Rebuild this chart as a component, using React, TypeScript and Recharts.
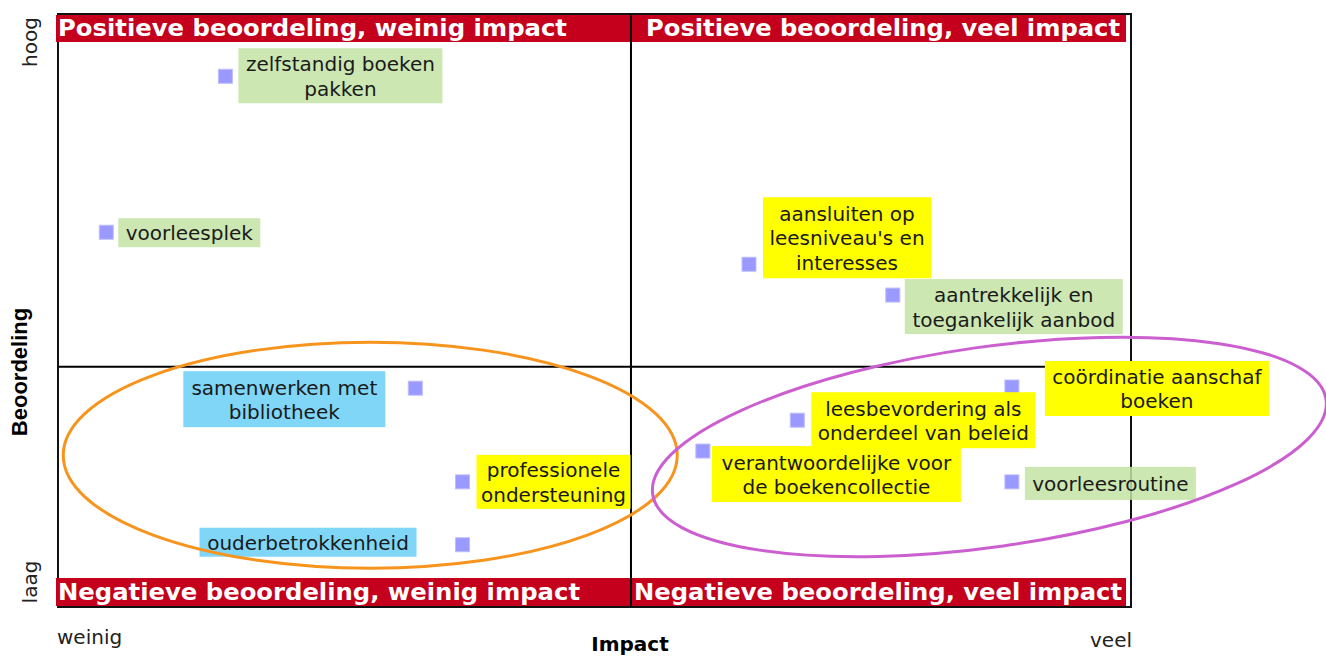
import { ScatterChart, Scatter, XAxis, YAxis, ReferenceLine, Customized } from "recharts";

// onderwerpen uit de leesmonitor, met impact (x) en beoordeling (y) op schaal 0-10
const items = [
  "zelfstandig boeken\npakken",
  "voorleesplek",
  "aansluiten op\nleesniveau's en\ninteresses",
  "aantrekkelijk en\ntoegankelijk aanbod",
  "samenwerken met\nbibliotheek",
  "professionele\nondersteuning",
  "ouderbetrokkenheid",
  "coördinatie aanschaf\nboeken",
  "leesbevordering als\nonderdeel van beleid",
  "verantwoordelijke voor\nde boekencollectie",
  "voorleesroutine",
];
const impact = [1.56, 0.45, 6.44, 7.78, 3.33, 3.77, 3.77, 8.89, 6.89, 6.01, 8.89];
const beoordeling = [8.95, 6.32, 5.78, 5.26, 3.69, 2.11, 1.05, 3.71, 3.15, 2.63, 2.11];
const groep = ["a", "a", "b", "a", "c", "b", "c", "b", "b", "b", "a"];

const quadrantTitles = [
  "Positieve beoordeling, weinig impact",
  "Positieve beoordeling, veel impact",
  "Negatieve beoordeling, weinig impact",
  "Negatieve beoordeling, veel impact",
];
const yTickLabels = ["hoog", "laag"];
const xTickLabels = ["weinig", "veel"];
const xTitle = "Impact";
const yTitle = "Beoordeling";

// grens tussen de kwadranten
const impactMid = 5.34;
const beoordelingMid = 4.05;

// middelpunten van de omcirkelde groepen
const clusterImpact = [2.91, 8.68];
const clusterBeoordeling = [2.56, 2.7];

const data = items.map((name, i) => ({
  name,
  impact: impact[i],
  beoordeling: beoordeling[i],
  groep: groep[i],
  idx: i,
}));
const clusters = clusterImpact.map((x, i) => ({ impact: x, beoordeling: clusterBeoordeling[i], idx: i }));

// label placement relative to the marker (px)
const labelLayout = [
  { dx: 13, dy: -28, w: 204, h: 55 },
  { dx: 12, dy: -14, w: 142, h: 29 },
  { dx: 14, dy: -67, w: 168, h: 81 },
  { dx: 12, dy: -16, w: 218, h: 55 },
  { dx: -232, dy: -17, w: 202, h: 56 },
  { dx: 14, dy: -27, w: 154, h: 54 },
  { dx: -263, dy: -17, w: 217, h: 29 },
  { dx: 33, dy: -26, w: 224, h: 55 },
  { dx: 14, dy: -28, w: 224, h: 56 },
  { dx: 9, dy: -5, w: 249, h: 56 },
  { dx: 13, dy: -15, w: 171, h: 33 },
];
const groupFill: Record<string, { fill: string; opacity: number }> = {
  a: { fill: "#c3e3a4", opacity: 0.85 },
  b: { fill: "#ffff00", opacity: 1 },
  c: { fill: "#7fd6f6", opacity: 1 },
};
const clusterStyle = [
  { rx: 307, ry: 113, angle: 0, color: "#f7941d" },
  { rx: 340, ry: 100, angle: -8, color: "#cc5fd0" },
];

const W = 1326;
const H = 657;
const M = { top: 14, right: 195, bottom: 50, left: 58 };
const PL = M.left;
const PR = W - M.right;
const PT = M.top;
const PB = H - M.bottom;
const MIDX = 631;
const RED = "#c4001c";
const FONT = "'DejaVu Sans', Verdana, sans-serif";
const LINE_H = 24.5;

const PointShape = (props: any) => {
  const { cx, cy, payload } = props;
  const box = labelLayout[payload.idx];
  const lines = String(payload.name).split("\n");
  const left = cx + box.dx;
  const top = cy + box.dy;
  const offset = (box.h - lines.length * LINE_H) / 2;
  const g = groupFill[payload.groep];
  return (
    <g>
      <rect x={cx - 7} y={cy - 7} width={14} height={14} fill="#9999ff" stroke="#bdbdff" strokeWidth={1} />
      <rect x={left} y={top} width={box.w} height={box.h} fill={g.fill} fillOpacity={g.opacity} />
      {lines.map((l, i) => (
        <text
          key={i}
          x={left + box.w / 2}
          y={top + offset + 20 + i * LINE_H}
          textAnchor="middle"
          fontFamily={FONT}
          fontSize={20}
          fill="#1a1a1a"
        >
          {l}
        </text>
      ))}
    </g>
  );
};

const ClusterShape = (props: any) => {
  const { cx, cy, payload } = props;
  const s = clusterStyle[payload.idx];
  return (
    <ellipse
      cx={cx}
      cy={cy}
      rx={s.rx}
      ry={s.ry}
      transform={`rotate(${s.angle} ${cx} ${cy})`}
      fill="none"
      stroke={s.color}
      strokeWidth={3}
    />
  );
};

const bannerText = (text: string, x: number, y: number, len: number) => (
  <text
    x={x}
    y={y}
    textLength={len}
    lengthAdjust="spacingAndGlyphs"
    fontFamily="'DejaVu Sans Condensed', 'DejaVu Sans', sans-serif"
    fontWeight="bold"
    fontSize={23}
    fill="#fff"
  >
    {text}
  </text>
);

const BackLayer = () => (
  <g>
    <rect x={PL} y={PT} width={PR - PL} height={PB - PT} fill="none" stroke="#111" strokeWidth={2} />
    <rect x={56} y={578} width={MIDX - 56} height={28} fill={RED} />
    <rect x={MIDX} y={578} width={1126 - MIDX} height={28} fill={RED} />
    {bannerText(quadrantTitles[2], 58, 600, 522)}
    {bannerText(quadrantTitles[3], 634, 600, 488)}
  </g>
);

const FrontLayer = () => (
  <g>
    <rect x={56} y={15} width={1126 - 56} height={27} fill={RED} />
    {bannerText(quadrantTitles[0], 58, 36, 509)}
    {bannerText(quadrantTitles[1], 646, 36, 474)}
    <text x={37} y={42} transform="rotate(-90 37 42)" textAnchor="middle" fontFamily={FONT} fontSize={20} fill="#222">
      {yTickLabels[0]}
    </text>
    <text x={37} y={582} transform="rotate(-90 37 582)" textAnchor="middle" fontFamily={FONT} fontSize={20} fill="#222">
      {yTickLabels[1]}
    </text>
    <text
      x={27}
      y={372}
      transform="rotate(-90 27 372)"
      textAnchor="middle"
      fontFamily="'Liberation Sans', Arial, sans-serif"
      fontWeight="bold"
      fontSize={22}
      fill="#000"
    >
      {yTitle}
    </text>
    <text x={57} y={644} fontFamily={FONT} fontSize={20} fill="#222">
      {xTickLabels[0]}
    </text>
    <text x={1132} y={647} textAnchor="end" fontFamily={FONT} fontSize={20} fill="#222">
      {xTickLabels[1]}
    </text>
    <text x={630} y={651} textAnchor="middle" fontFamily={FONT} fontWeight="bold" fontSize={20} fill="#000">
      {xTitle}
    </text>
  </g>
);

export default function App() {
  return (
    <div style={{ position: "absolute", left: 0, top: 0, width: W, height: H, background: "#fff" }}>
      <ScatterChart width={W} height={H} margin={M}>
        <XAxis type="number" dataKey="impact" domain={[0, 10]} hide />
        <YAxis type="number" dataKey="beoordeling" domain={[0, 10]} hide />
        <Customized component={BackLayer} />
        <ReferenceLine x={impactMid} stroke="#000" strokeWidth={2} ifOverflow="visible" />
        <ReferenceLine y={beoordelingMid} stroke="#000" strokeWidth={2} ifOverflow="visible" />
        <Scatter data={data} shape={PointShape} isAnimationActive={false} />
        <Customized component={FrontLayer} />
        <Scatter data={clusters} shape={ClusterShape} isAnimationActive={false} />
      </ScatterChart>
    </div>
  );
}
